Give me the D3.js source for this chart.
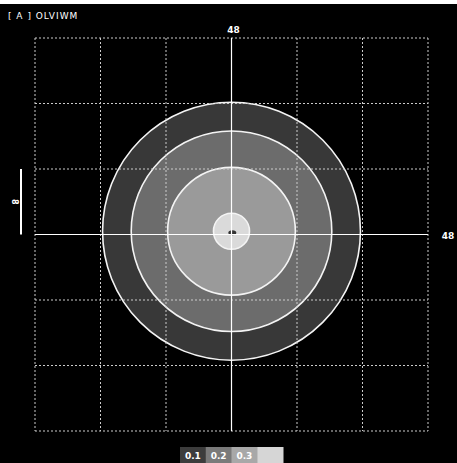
<!DOCTYPE html>
<html>
<head>
<meta charset="utf-8">
<script src="https://cdn.jsdelivr.net/npm/d3@7"></script>
<style>
body { margin:0; background:#000; }
svg { display:block; }
</style>
</head>
<body>
<div id="chart"></div>
<script>
// grid ticks (units), ring radii (units, outer to inner), legend
var gridTicks = [-48, -32, -16, 0, 16, 32, 48];
var ringRadii = [31.5, 24.5, 15.6, 4.4];
var ringFills = ["#383838", "#6c6c6c", "#9a9a9a", "#dadada"];
var legendLabels = ["0.1", "0.2", "0.3", ""];
var legendFills = ["#3c3c3c", "#7a7a7a", "#a8a8a8", "#d6d6d6"];
var scaleBar = 16;

var width = 457, height = 463;
var svg = d3.select("#chart").append("svg")
    .attr("width", width)
    .attr("height", height);

svg.append("rect").attr("width", width).attr("height", height).style("fill", "#000");
svg.append("rect").attr("width", width).attr("height", 4).style("fill", "#fff");

var x = d3.scaleLinear().domain([-48, 48]).range([35, 428]);
var y = d3.scaleLinear().domain([-48, 48]).range([431, 38]);

// rings
svg.selectAll(".ring")
    .data(ringRadii)
    .enter().append("circle")
    .attr("cx", x(0))
    .attr("cy", y(0.8))
    .attr("r", function(d) { return x(d) - x(0); })
    .style("fill", function(d, i) { return ringFills[i]; })
    .style("stroke", "#f4f4f4")
    .style("stroke-width", 1.6);

// center spot
svg.append("ellipse")
    .attr("cx", x(0.2)).attr("cy", y(0.4))
    .attr("rx", 4).attr("ry", 2.5)
    .style("fill", "#333");

// dotted grid
svg.selectAll(".vgrid")
    .data(gridTicks.filter(function(d) { return d != 0; }))
    .enter().append("line")
    .attr("x1", function(d) { return x(d); })
    .attr("x2", function(d) { return x(d); })
    .attr("y1", y(48)).attr("y2", y(-48))
    .style("stroke", "#ccc")
    .style("stroke-width", 1)
    .style("stroke-dasharray", "2,2");

svg.selectAll(".hgrid")
    .data(gridTicks.filter(function(d) { return d != 0; }))
    .enter().append("line")
    .attr("y1", function(d) { return y(d); })
    .attr("y2", function(d) { return y(d); })
    .attr("x1", x(-48)).attr("x2", x(48))
    .style("stroke", "#ccc")
    .style("stroke-width", 1)
    .style("stroke-dasharray", "2,2");

// crosshair
svg.append("line")
    .attr("x1", x(0)).attr("x2", x(0))
    .attr("y1", y(48)).attr("y2", y(-48))
    .style("stroke", "#fff").style("stroke-width", 1.2);
svg.append("line")
    .attr("x1", x(-48)).attr("x2", x(48))
    .attr("y1", y(0)).attr("y2", y(0))
    .style("stroke", "#fff").style("stroke-width", 1.2);

// labels
svg.append("text")
    .attr("x", 8).attr("y", 19)
    .style("fill", "#fff").style("font-family", "DejaVu Sans").style("font-size", "9px")
    .style("letter-spacing", "1px")
    .text("[ A ]  OLVIWM");

svg.append("text")
    .attr("x", x(0) + 2).attr("y", y(48) - 5)
    .attr("text-anchor", "middle")
    .style("fill", "#fff").style("font-family", "DejaVu Sans").style("font-size", "9px").style("font-weight", "bold")
    .text("48");

svg.append("text")
    .attr("x", 448).attr("y", y(0) + 4)
    .attr("text-anchor", "middle")
    .style("fill", "#fff").style("font-family", "DejaVu Sans").style("font-size", "9px").style("font-weight", "bold")
    .text("48");

// scale bar
svg.append("line")
    .attr("x1", 21).attr("x2", 21)
    .attr("y1", y(0)).attr("y2", y(scaleBar))
    .style("stroke", "#fff").style("stroke-width", 2);
svg.append("text")
    .attr("transform", "translate(" + 12 + "," + y(scaleBar / 2) + ") rotate(90)")
    .attr("text-anchor", "middle")
    .style("fill", "#fff").style("font-family", "DejaVu Sans").style("font-size", "8px").style("font-weight", "bold")
    .text("8");

// legend
var lx = d3.scaleBand().domain(legendLabels.map(function(d, i) { return i; })).range([180, 283]);
var legend = svg.append("g");
legend.selectAll("rect")
    .data(legendLabels)
    .enter().append("rect")
    .attr("x", function(d, i) { return lx(i); })
    .attr("y", 447)
    .attr("width", lx.bandwidth() + 0.5)
    .attr("height", 16)
    .style("fill", function(d, i) { return legendFills[i]; });
legend.selectAll("text")
    .data(legendLabels)
    .enter().append("text")
    .attr("x", function(d, i) { return lx(i) + lx.bandwidth() / 2; })
    .attr("y", 459)
    .attr("text-anchor", "middle")
    .style("fill", "#fff").style("font-family", "DejaVu Sans").style("font-size", "9px").style("font-weight", "bold")
    .text(function(d) { return d; });
</script>
</body>
</html>
